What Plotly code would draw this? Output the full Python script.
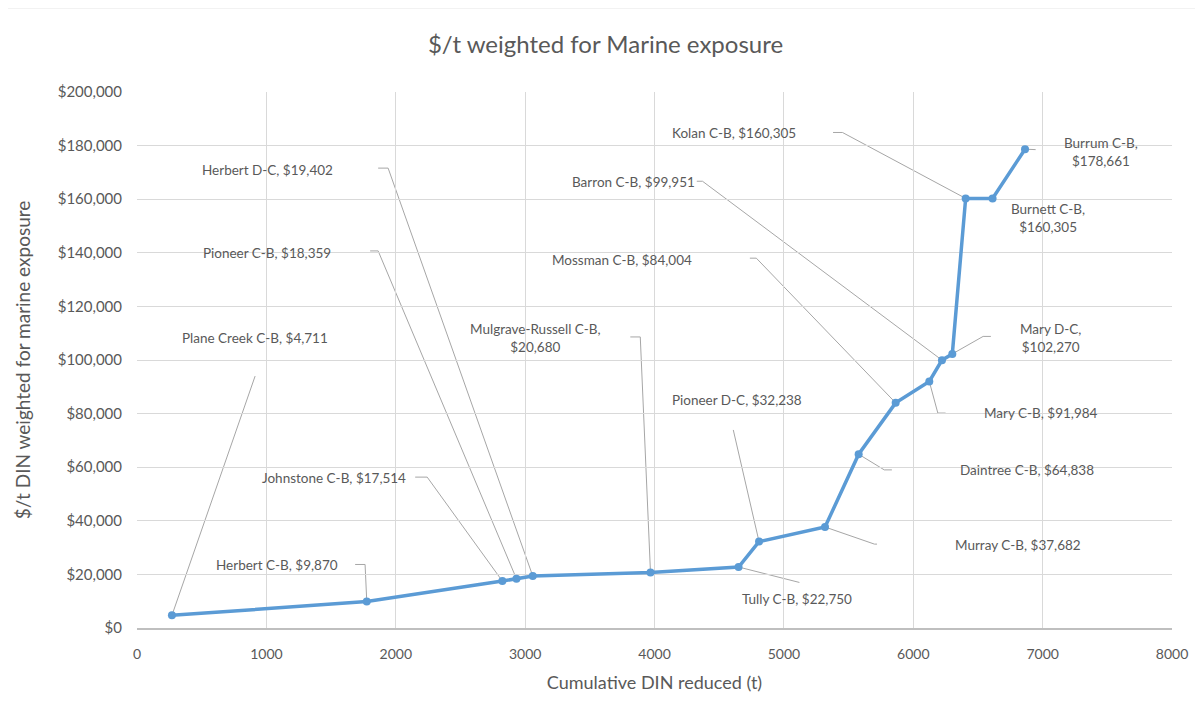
import plotly.graph_objects as go

# ---- data ----
names = ["Plane Creek C-B", "Herbert C-B", "Johnstone C-B", "Pioneer C-B", "Herbert D-C",
         "Mulgrave-Russell C-B", "Tully C-B", "Pioneer D-C", "Murray C-B", "Daintree C-B",
         "Mossman C-B", "Mary C-B", "Barron C-B", "Mary D-C", "Kolan C-B", "Burnett C-B", "Burrum C-B"]
cum_din = [270, 1776, 2824, 2933, 3059, 3969, 4650, 4808, 5318, 5578, 5864, 6124, 6222, 6302, 6405, 6613, 6864]
cost = [4711, 9870, 17514, 18359, 19402, 20680, 22750, 32238, 37682, 64838, 84004, 91984, 99951,
        102270, 160305, 160305, 178661]
two_line = ["Mulgrave-Russell C-B", "Mary D-C", "Burnett C-B", "Burrum C-B"]

# ---- label layout (positions only) ----
label_pos = [(913, 108200), (1083, 23500), (1524, 56000), (1005, 139900), (1005, 170900),
             (3078, 108200), (5104, 10800), (4640, 85000), (6806, 31000), (6883, 58950),
             (3751, 137300), (6984, 80200), (3836, 166400), (7061, 108200), (4617, 184700),
             (7038, 153000), (7448, 177600)]
leaders = [
    [(913, 94000)],
    [(1763, 23700), (1686, 23700)],
    [(2243, 56300), (2150, 56300)],
    [(1864, 140700), (1802, 140700)],
    [(1941, 171600), (1864, 171600)],
    [(3890, 108600), (3813, 108600)],
    [(5120, 17000)],
    [(4609, 73900)],
    [(5700, 31300), (5720, 31300)],
    [(5776, 59000), (5835, 59000)],
    [(4787, 138000), (4737, 138000)],
    [(6190, 80200), (6250, 80200)],
    [(4371, 166700), (4327, 166700)],
    [(6540, 108800), (6600, 108800)],
    [(5453, 184900), (5380, 184900)],
    [],
    [(6946, 178500)],
]

LINE_BLUE = "#5B9BD5"
TXT = "#595959"
FONT = "Lato"

fig = go.Figure()
fig.add_trace(go.Scatter(
    x=cum_din, y=cost, mode="lines+markers",
    line=dict(color=LINE_BLUE, width=3.5),
    marker=dict(color=LINE_BLUE, size=8),
    showlegend=False, hoverinfo="x+y"))

shapes = []
annotations = []
for i, n in enumerate(names):
    val = f"${cost[i]:,}"
    text = f"{n},<br>{val}" if n in two_line else f"{n}, {val}"
    tx, ty = label_pos[i]
    annotations.append(dict(x=tx, y=ty, xref="x", yref="y", text=text, showarrow=False,
                            font=dict(family=FONT, size=13.5, color=TXT), align="center"))
    pts = [(cum_din[i], cost[i])] + leaders[i]
    if len(pts) > 1:
        path = "M " + " L ".join(f"{px},{py}" for px, py in pts)
        shapes.append(dict(type="path", path=path, xref="x", yref="y",
                           line=dict(color="#A6A6A6", width=1), layer="below"))

# chart border
shapes.append(dict(type="rect", xref="paper", yref="paper", x0=-0.127, x1=1.024, y0=-0.2, y1=1.157,
                   line=dict(color="#D9D9D9", width=1), layer="below"))

fig.update_layout(
    width=1195, height=714,
    margin=dict(l=129, r=31, t=84, b=94),
    paper_bgcolor="white", plot_bgcolor="white",
    title=dict(text="$/t weighted for Marine exposure", x=0.5, xanchor="center",
               y=1 - 37 / 714, yanchor="middle",
               font=dict(family=FONT, size=24, color=TXT)),
    xaxis=dict(range=[0, 8000], dtick=1000, tickformat="d", showgrid=True, gridcolor="#D9D9D9",
               zeroline=False, showline=True, linecolor="#BFBFBF", linewidth=1.5, ticks="",
               ticklabelstandoff=12,
               tickfont=dict(family=FONT, size=14, color=TXT),
               title=dict(text="Cumulative DIN reduced (t)", font=dict(family=FONT, size=18, color=TXT),
                          standoff=16)),
    yaxis=dict(range=[0, 200000], dtick=20000, tickprefix="$", tickformat=",", showgrid=True,
               gridcolor="#D9D9D9", zeroline=False, showline=False, ticks="",
               ticklabelstandoff=14,
               tickfont=dict(family=FONT, size=15, color=TXT),
               title=dict(text="$/t DIN weighted for marine exposure",
                          font=dict(family=FONT, size=19, color=TXT), standoff=22)),
    shapes=shapes, annotations=annotations,
)

fig.write_html("out.html")
